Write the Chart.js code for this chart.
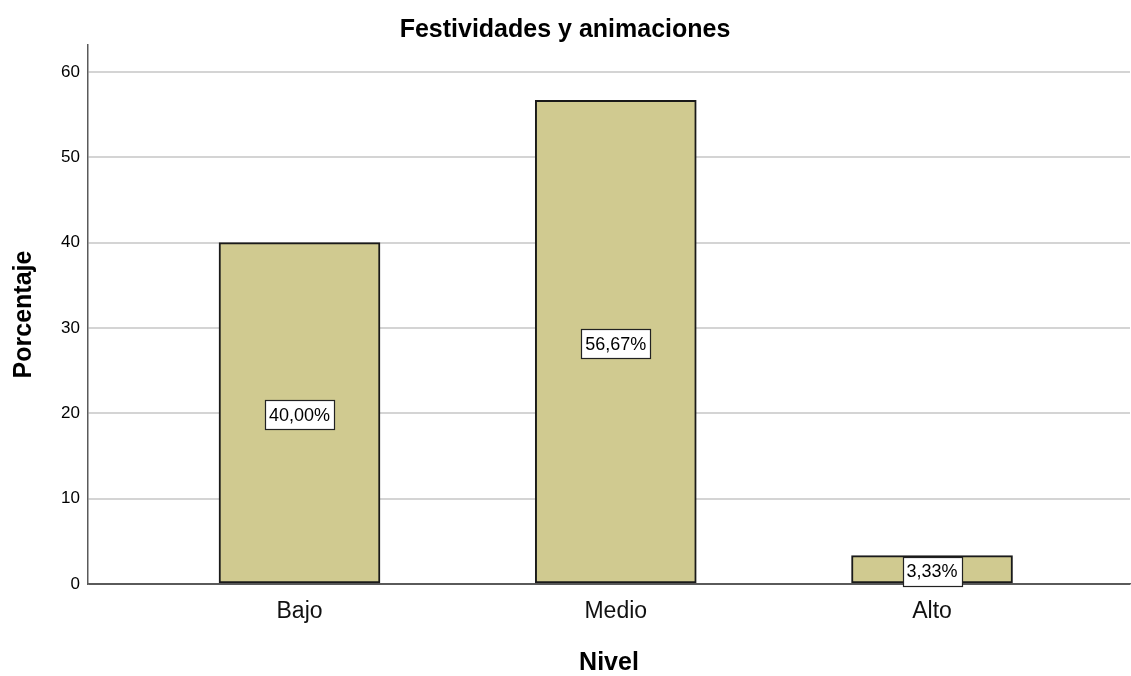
<!DOCTYPE html>
<html>
<head>
<meta charset="utf-8">
<script src="https://cdn.jsdelivr.net/npm/chart.js@4/dist/chart.umd.min.js"></script>
<style>
html,body{margin:0;padding:0;background:#fff;}
canvas{display:block;}
</style>
</head>
<body>
<canvas id="c" width="1131" height="676"></canvas>
<script>
const categories = ['Bajo', 'Medio', 'Alto'];
const percentages = [40.00, 56.67, 3.33];
const yTickValues = [0, 10, 20, 30, 40, 50, 60];
const chartTitle = 'Festividades y animaciones';
const xTitle = 'Nivel';
const yTitle = 'Porcentaje';

const FONT = "'Liberation Sans', Arial, sans-serif";

const labelPlugin = {
  id: 'barLabels',
  afterDatasetsDraw(chart) {
    const ctx = chart.ctx;
    const meta = chart.getDatasetMeta(0);
    ctx.save();
    ctx.font = '18px ' + FONT;
    ctx.textAlign = 'center';
    ctx.textBaseline = 'middle';
    meta.data.forEach((bar, i) => {
      const txt = percentages[i].toFixed(2).replace('.', ',') + '%';
      const w = ctx.measureText(txt).width + 8;
      const h = 29;
      const cx = bar.x;
      const cy = (bar.y + bar.base) / 2 + 2;
      const x0 = Math.round(cx - w / 2) + 0.5;
      const y0 = Math.round(cy - h / 2) + 0.5;
      ctx.fillStyle = '#ffffff';
      ctx.fillRect(x0, y0, Math.round(w), h);
      ctx.strokeStyle = '#222222';
      ctx.lineWidth = 1.2;
      ctx.strokeRect(x0, y0, Math.round(w), h);
      ctx.fillStyle = '#000000';
      ctx.fillText(txt, cx, cy + 1);
    });
    ctx.restore();
  }
};

new Chart(document.getElementById('c'), {
  type: 'bar',
  data: {
    datasets: [{
      data: percentages.map((v, i) => ({ x: i + 1, y: v })),
      backgroundColor: '#d0ca90',
      borderColor: '#1a1a1a',
      borderWidth: 2,
      borderSkipped: false,
      barThickness: 161
    }]
  },
  options: {
    responsive: false,
    animation: false,
    layout: { padding: { left: 0, right: 1, top: 0, bottom: 0 } },
    plugins: {
      legend: { display: false },
      tooltip: { enabled: false },
      title: {
        display: true,
        text: chartTitle,
        color: '#000',
        font: { family: FONT, size: 25, weight: 'bold', lineHeight: 1.2 },
        padding: { top: 15, bottom: 0 }
      }
    },
    scales: {
      x: {
        type: 'linear',
        min: 0.3312,
        max: 3.626,
        offset: false,
        afterBuildTicks(scale) {
          scale.ticks = categories.map((c, i) => ({ value: i + 1 }));
        },
        afterFit(scale) { scale.height = 92; },
        ticks: {
          autoSkip: false,
          maxRotation: 0,
          padding: 14,
          color: '#111',
          font: { family: FONT, size: 23 },
          callback: (v, idx) => categories[idx]
        },
        grid: { display: false, drawTicks: false },
        border: { display: true, color: '#5a5a5a', width: 1.5 },
        title: {
          display: true,
          text: xTitle,
          color: '#000',
          font: { family: FONT, size: 25, weight: 'bold', lineHeight: 1.2 },
          padding: { top: 0, bottom: -2 }
        }
      },
      y: {
        min: 0,
        max: 63.16,
        afterBuildTicks(scale) {
          scale.ticks = yTickValues.map(v => ({ value: v }));
        },
        afterFit(scale) { scale.width = 88; },
        ticks: {
          padding: 8,
          color: '#000',
          font: { family: FONT, size: 17 }
        },
        grid: {
          drawTicks: false,
          color: (c) => c.tick && c.tick.value === 0 ? '#5a5a5a' : '#d4d4d4',
          lineWidth: 2
        },
        border: { display: true, color: '#5a5a5a', width: 1.5 },
        title: {
          display: true,
          text: yTitle,
          color: '#000',
          font: { family: FONT, size: 25, weight: 'bold', lineHeight: 1.2 },
          padding: { top: 9, bottom: 0 }
        }
      }
    }
  },
  plugins: [labelPlugin]
});
</script>
</body>
</html>
